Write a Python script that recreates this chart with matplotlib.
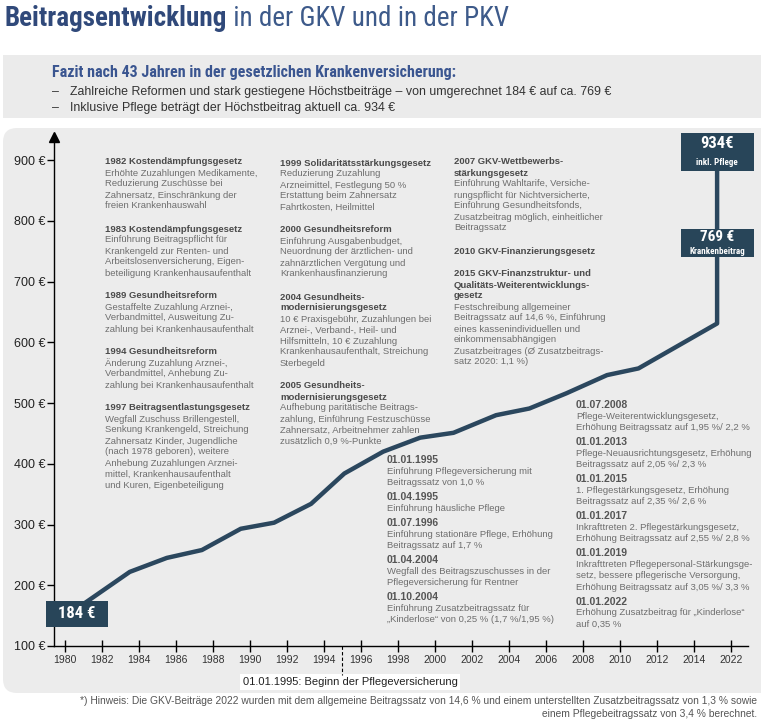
import matplotlib
matplotlib.use('agg')
import matplotlib.pyplot as plt
from matplotlib.patches import FancyBboxPatch, Rectangle
import numpy as np

# Beitragsverlauf (Position auf der Zeitachse, Höchstbeitrag in €)
jahre = [1980.8, 1983.5, 1985.5, 1987.4, 1989.5, 1991.3, 1993.3, 1995.1, 1997.2,
         1999.2, 2001.0, 2003.3, 2005.1, 2007.1, 2009.3, 2011.0, 2015.25, 2015.25]
beitrag = [165, 222, 245, 258, 293, 303, 334, 384, 420,
           443, 451, 480, 491, 516, 546, 557, 631, 934]

start_wert = 184
kranken_wert = 769
pflege_wert = 934

x_ticks = list(range(1980, 2017, 2))
x_labels = [str(j) for j in range(1980, 2015, 2)] + ['2022']
y_ticks = list(range(100, 1000, 100))
y_labels = [f'{v} €' for v in y_ticks]

pflege_start = 1995
pflege_text = '01.01.1995: Beginn der Pflegeversicherung'

titel_fett = 'Beitragsentwicklung'
titel_rest = ' in der GKV und in der PKV'
fazit_titel = 'Fazit nach 43 Jahren in der gesetzlichen Krankenversicherung:'
fazit_punkte = ['Zahlreiche Reformen und stark gestiegene Höchstbeiträge – von umgerechnet 184 € auf ca. 769 €',
                'Inklusive Pflege beträgt der Höchstbeitrag aktuell ca. 934 €']
hinweis = ['*) Hinweis: Die GKV-Beiträge 2022 wurden mit dem allgemeine Beitragssatz von 14,6 % und einem unterstellten Zusatzbeitragssatz von 1,3 % sowie',
           'einem Pflegebeitragssatz von 3,4 % berechnet.']

spalte1 = [
    (['1982 Kostendämpfungsgesetz'],
     ['Erhöhte Zuzahlungen Medikamente,', 'Reduzierung Zuschüsse bei',
      'Zahnersatz, Einschränkung der', 'freien Krankenhauswahl']),
    (['1983 Kostendämpfungsgesetz'],
     ['Einführung Beitragspflicht für', 'Krankengeld zur Renten- und',
      'Arbeitslosenversicherung, Eigen-', 'beteiligung Krankenhausaufenthalt']),
    (['1989 Gesundheitsreform'],
     ['Gestaffelte Zuzahlung Arznei-,', 'Verbandmittel, Ausweitung Zu-',
      'zahlung bei Krankenhausaufenthalt']),
    (['1994 Gesundheitsreform'],
     ['Änderung Zuzahlung Arznei-,', 'Verbandmittel, Anhebung Zu-',
      'zahlung bei Krankenhausaufenthalt']),
    (['1997 Beitragsentlastungsgesetz'],
     ['Wegfall Zuschuss Brillengestell,', 'Senkung Krankengeld, Streichung',
      'Zahnersatz Kinder, Jugendliche', '(nach 1978 geboren), weitere',
      'Anhebung Zuzahlungen Arznei-', 'mittel, Krankenhausaufenthalt',
      'und Kuren, Eigenbeteiligung']),
]
spalte2 = [
    (['1999 Solidaritätsstärkungsgesetz'],
     ['Reduzierung Zuzahlung', 'Arzneimittel, Festlegung 50 %',
      'Erstattung beim Zahnersatz', 'Fahrtkosten, Heilmittel']),
    (['2000 Gesundheitsreform'],
     ['Einführung Ausgabenbudget,', 'Neuordnung der ärztlichen- und',
      'zahnärztlichen Vergütung und', 'Krankenhausfinanzierung']),
    (['2004 Gesundheits-', 'modernisierungsgesetz'],
     ['10 € Praxisgebühr, Zuzahlungen bei', 'Arznei-, Verband-, Heil- und',
      'Hilfsmitteln, 10 € Zuzahlung', 'Krankenhausaufenthalt, Streichung',
      'Sterbegeld']),
    (['2005 Gesundheits-', 'modernisierungsgesetz'],
     ['Aufhebung paritätische Beitrags-', 'zahlung, Einführung Festzuschüsse',
      'Zahnersatz, Arbeitnehmer zahlen', 'zusätzlich 0,9 %-Punkte']),
]
spalte3 = [
    (['2007 GKV-Wettbewerbs-', 'stärkungsgesetz'],
     ['Einführung Wahltarife, Versiche-', 'rungspflicht für Nichtversicherte,',
      'Einführung Gesundheitsfonds,', 'Zusatzbeitrag möglich, einheitlicher',
      'Beitragssatz']),
    (['2010 GKV-Finanzierungsgesetz'], []),
    (['2015 GKV-Finanzstruktur- und', 'Qualitäts-Weiterentwicklungs-', 'gesetz'],
     ['Festschreibung allgemeiner', 'Beitragssatz auf 14,6 %, Einführung',
      'eines kassenindividuellen und', 'einkommensabhängigen',
      'Zusatzbeitrages (Ø Zusatzbeitrags-', 'satz 2020: 1,1 %)']),
]
pflege_links = [
    ('01.01.1995', ['Einführung Pflegeversicherung mit', 'Beitragssatz von 1,0 %']),
    ('01.04.1995', ['Einführung häusliche Pflege']),
    ('01.07.1996', ['Einführung stationäre Pflege, Erhöhung', 'Beitragssatz auf 1,7 %']),
    ('01.04.2004', ['Wegfall des Beitragszuschusses in der', 'Pflegeversicherung für Rentner']),
    ('01.10.2004', ['Einführung Zusatzbeitragssatz für', '„Kinderlose“ von 0,25 % (1,7 %/1,95 %)']),
]
pflege_rechts = [
    ('01.07.2008', ['Pflege-Weiterentwicklungsgesetz,', 'Erhöhung Beitragssatz auf 1,95 %/ 2,2 %']),
    ('01.01.2013', ['Pflege-Neuausrichtungsgesetz, Erhöhung', 'Beitragssatz auf 2,05 %/ 2,3 %']),
    ('01.01.2015', ['1. Pflegestärkungsgesetz, Erhöhung', 'Beitragssatz auf 2,35 %/ 2,6 %']),
    ('01.01.2017', ['Inkrafttreten 2. Pflegestärkungsgesetz,', 'Erhöhung Beitragssatz auf 2,55 %/ 2,8 %']),
    ('01.01.2019', ['Inkrafttreten Pflegepersonal-Stärkungsge-', 'setz, bessere pflegerische Versorgung,',
                    'Erhöhung Beitragssatz auf 3,05 %/ 3,3 %']),
    ('01.01.2022', ['Erhöhung Zusatzbeitrag für „Kinderlose“', 'auf 0,35 %']),
]

SANS = ['Liberation Sans', 'DejaVu Sans']
NARROW = ['Liberation Sans Narrow', 'Roboto Condensed', 'Open Sans Condensed', 'Liberation Sans', 'DejaVu Sans']
BLAU = '#30497a'
DUNKEL = '#284559'
KOPF = '#4a4a4a'
GRAU = '#6e6e6e'

plt.rcParams['font.family'] = SANS

W, H = 761, 721
fig = plt.figure(figsize=(W / 100, H / 100), dpi=100)
fig.patch.set_facecolor('white')

# Hintergrund-Achse in Pixelkoordinaten (y nach unten)
bg = fig.add_axes([0, 0, 1, 1], zorder=0)
bg.set_xlim(0, W)
bg.set_ylim(H, 0)
bg.axis('off')

bg.add_patch(Rectangle((3, 55), W, 63, color='#ebebeb', lw=0))
bg.add_patch(FancyBboxPatch((3, 128), W + 30, 565, boxstyle='round,pad=0,rounding_size=14',
                            color='#ececec', lw=0))

# Titel
t1 = bg.text(5, 18, titel_fett, fontsize=19.5, fontweight='bold', color=BLAU,
             family=NARROW, va='center', ha='left')
fig.canvas.draw()
bb = t1.get_window_extent()
bg.text(bb.x1, 18, titel_rest, fontsize=19.5, color='#3d5a8a', family=NARROW, va='center', ha='left')

# Fazit
bg.text(52, 72, fazit_titel, fontsize=11.5, fontweight='bold', color='#3a5590',
        family=NARROW, va='center')
for i, s in enumerate(fazit_punkte):
    bg.text(52, 92 + i * 16, '–', fontsize=8.9, color='#333333', va='center')
    bg.text(70, 92 + i * 16, s, fontsize=8.9, color='#333333', va='center')


def spalte(x, y, bloecke, schritt=11, luecke=12, gr=6.8):
    for kopf, text in bloecke:
        for z in kopf:
            bg.text(x, y, z, fontsize=gr, fontweight='bold', color=KOPF, va='center')
            y += schritt
        for z in text:
            bg.text(x, y, z, fontsize=gr, color=GRAU, va='center')
            y += schritt
        y += luecke


def pflege(x, y, bloecke, schritt=11.2, luecke=3.5):
    for datum, text in bloecke:
        bg.text(x, y, datum, fontsize=7.5, fontweight='bold', color='#555555', va='center')
        y += schritt
        for z in text:
            bg.text(x, y, z, fontsize=6.8, color=GRAU, va='center')
            y += schritt
        y += luecke


spalte(105, 162, spalte1)
spalte(280, 163, spalte2)
spalte(454, 162, spalte3)
pflege(387, 460, pflege_links)
pflege(576, 405, pflege_rechts)

# Hinweis unten
for i, s in enumerate(hinweis):
    bg.text(757, 701 + i * 13, s, fontsize=7.35, color='#555555', ha='right', va='center')

# Diagramm
x0, x1 = 1979.405, 2016.92
y0, y1 = 100, 938
ax = fig.add_axes([54 / W, 1 - 646 / H, 694 / W, 509 / H], zorder=1)
ax.patch.set_alpha(0)
ax.set_xlim(x0, x1)
ax.set_ylim(y0, y1)
px_x = 694 / (x1 - x0)
px_y = 509 / (y1 - y0)

ax.plot(jahre, beitrag, color='#2b475e', lw=3.2, solid_joinstyle='round',
        solid_capstyle='round', zorder=3)

for s in ['top', 'right']:
    ax.spines[s].set_visible(False)
for s in ['left', 'bottom']:
    ax.spines[s].set_linewidth(1)
ax.plot(0, 1, marker='^', ms=7, color='black', transform=ax.transAxes, clip_on=False)

ax.set_xticks(x_ticks, x_labels)
ax.set_yticks(y_ticks, y_labels)
ax.tick_params(axis='x', direction='inout', length=9, width=1, pad=2, labelsize=7.5, labelcolor='#333333')
ax.tick_params(axis='y', direction='out', length=5, width=1, pad=1, labelsize=9, labelcolor='#222222')

# Beginn der Pflegeversicherung
ax.plot([pflege_start, pflege_start], [y0, y0 - 29 / px_y], color='black', lw=0.8,
        ls=(0, (3, 2)), clip_on=False)
bg.text(350, 682, pflege_text, fontsize=8, color='#222222', ha='center', va='center',
        bbox=dict(boxstyle='square,pad=0.25', fc='white', ec='none'))


def wert_box(xc, yc, bpx, hpx, zeilen):
    w = bpx / px_x
    h = hpx / px_y
    ax.add_patch(Rectangle((xc - w / 2, yc - h / 2), w, h, color=DUNKEL, lw=0,
                           clip_on=False, zorder=5))
    for text, gr, dy in zeilen:
        ax.text(xc, yc - dy / px_y, text, fontsize=gr, fontweight='bold', color='white',
                ha='center', va='center', family=NARROW, zorder=6, clip_on=False)


wert_box(1980.65, 153, 62, 26, [(f'{start_wert} €', 12, 0)])
wert_box(jahre[-1], 763, 73, 28, [(f'{kranken_wert} €', 11, -6), ('Krankenbeitrag', 6.5, 8)])
wert_box(jahre[-1], 913, 73, 38, [(f'{pflege_wert}€', 12, -9), ('inkl. Pflege', 6.5, 10)])

plt.savefig('out.png', dpi=100)
